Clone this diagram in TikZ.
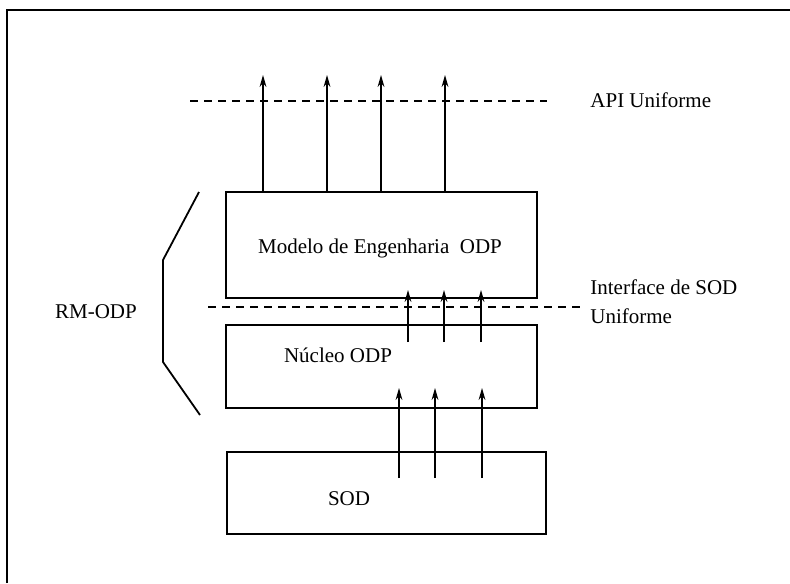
\documentclass[tikz,border=0pt]{standalone}
\usepackage{fontspec}
\setmainfont{Liberation Serif}
\usetikzlibrary{arrows.meta}
\begin{document}
\begin{tikzpicture}[x=0.5pt,y=-0.5pt,
  layer/.style={draw, line width=1pt, inner sep=0pt, anchor=north west},
  flow/.style={line width=0.75pt, -{Stealth[length=6pt,width=3.4pt]}},
  iface/.style={line width=0.75pt, dash pattern=on 4pt off 3pt},
  lbl/.style={font=\fontsize{10.5}{12}\selectfont, inner sep=0pt}]
\useasboundingbox (0,0) rectangle (790,583);

% outer frame (left and top edges)
\draw[line width=1pt] (7,583) -- (7,10) -- (790,10);

% layers
\node[layer, minimum width=155.5pt, minimum height=53pt] (eng) at (225,191) {};
\node[layer, minimum width=155.5pt, minimum height=41.5pt] (core) at (225,324) {};
\node[layer, minimum width=159.5pt, minimum height=41pt] (sod) at (226,451) {};

\node[lbl] (engtxt) at (380,248) {Modelo de Engenharia\ \ ODP};
\node[lbl] (coretxt) at (338,355) {Núcleo ODP};
\node[lbl] (sodtxt) at (349,499) {SOD};

% interface lines
\coordinate (apiL) at (190,101);
\coordinate (apiR) at (547,101);
\draw[iface] (apiL) -- (apiR);
\coordinate (sodL) at (208,307);
\coordinate (sodR) at (580,307);
\draw[iface] (sodL) -- (sodR);

\node[lbl, anchor=west] (apitxt) at (590,100) {API Uniforme};
\node[lbl, anchor=west] (ifacetxt) at (590,287) {Interface de SOD};
\node[lbl, anchor=west] (unitxt) at (590,316) {Uniforme};

% API arrows out of the engineering model
\foreach \i/\x in {1/263,2/327,3/381,4/445}{
  \coordinate (api\i) at (\x,75);
  \draw[flow] (eng.north -| api\i) -- (api\i);
}

% arrows from the core to the engineering model
\foreach \i/\x in {1/408,2/444,3/481}{
  \coordinate (ms\i) at (\x,342);
  \coordinate (me\i) at (\x,290);
  \draw[flow] (ms\i) -- (me\i);
}

% arrows from SOD to the core
\foreach \i/\x in {1/399,2/435,3/482}{
  \coordinate (ls\i) at (\x,478);
  \coordinate (le\i) at (\x,388);
  \draw[flow] (ls\i) -- (le\i);
}

% RM-ODP bracket
\coordinate (b1) at (199,192);
\coordinate (b2) at (163,260);
\coordinate (b3) at (163,362);
\coordinate (b4) at (200,415);
\draw[line width=0.9pt] (b1) -- (b2) -- (b3) -- (b4);
\node[lbl] (rmtxt) at (96,312) {RM-ODP};
\end{tikzpicture}
\end{document}
